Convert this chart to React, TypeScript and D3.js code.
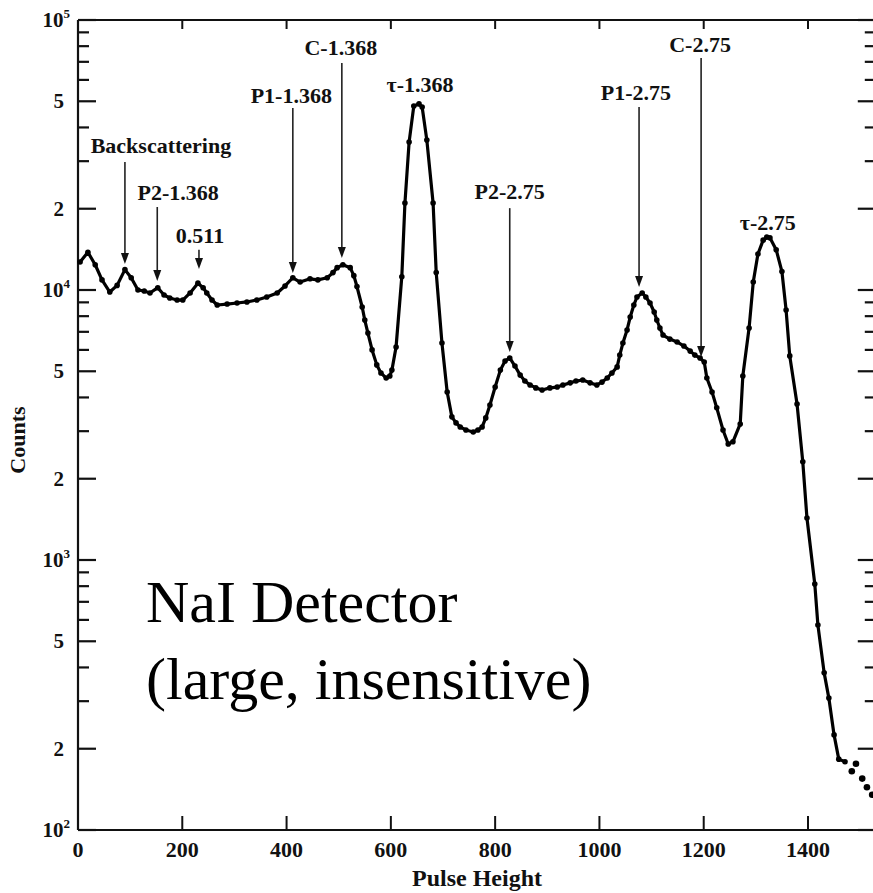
import React from "react";
import * as d3 from "d3";

const pulse = [4,19,33,46,61,75,90,102,115,127,138,153,165,176,190,201,215,230,240,247,257,267,286,305,324,343,362,382,397,412,426,445,460,478,489,497,508,522,529,535,545,550,556,564,573,581,591,598,602,610,621,627,635,644,654,660,669,681,687,698,708,717,725,733,744,758,767,775,782,790,800,810,819,828,838,848,857,867,878,890,905,919,930,944,955,968,982,995,1005,1015,1024,1034,1039,1045,1053,1059,1066,1072,1082,1089,1097,1105,1110,1116,1122,1135,1149,1162,1174,1183,1193,1201,1206,1216,1225,1237,1247,1256,1270,1275,1287,1295,1304,1314,1321,1327,1339,1350,1358,1365,1379,1390,1398,1413,1419,1431,1440,1450,1459,1471];
const counts = [12700,13800,12400,10900,9830,10400,11900,11100,10000,9915,9750,10200,9580,9340,9180,9180,9750,10600,10200,9750,9180,8800,8870,8950,9030,9180,9420,9750,10350,11100,10700,11000,10900,11100,11600,12100,12400,12100,11300,10300,8650,7740,6930,6000,5280,4930,4720,4800,5050,6150,11200,21000,35300,48000,48900,47600,35900,21000,11600,6360,4190,3390,3220,3110,3030,2980,3030,3110,3360,3750,4370,5050,5460,5600,5230,4840,4600,4450,4340,4260,4340,4370,4450,4530,4600,4640,4530,4450,4560,4720,4930,5190,5740,6360,7110,7940,8800,9420,9750,9420,8950,8290,7740,7230,6810,6580,6420,6200,5940,5740,5600,5410,4720,4190,3660,3030,2690,2740,3190,4800,7230,10700,13600,15300,15700,15600,14100,11700,8430,5700,3780,2310,1430,815,574,382,308,225,183,179];

const tailPulse = [1484,1492,1504,1513,1523];
const tailCounts = [165,176,155,144,135];

const xTicks = [0,200,400,600,800,1000,1200,1400];
const yMajorLabels: [number, string, string][] = [
  [100000,"10","5"],[50000,"5",""],[20000,"2",""],
  [10000,"10","4"],[5000,"5",""],[2000,"2",""],
  [1000,"10","3"],[500,"5",""],[200,"2",""],[100,"10","2"],
];

// annotations: label, arrow x, label x, label baseline (counts), arrow top (counts), arrow tip (counts)
const annLabels = ["Backscattering","P2-1.368","0.511","P1-1.368","C-1.368","τ-1.368","P2-2.75","P1-2.75","C-2.75","τ-2.75"];
const annArrowX = [90,152,232,412,506,null,828,1076,1195,null];
const annLabelX = [159,192,234,409,504,656,828,1070,1193,1323];
const annLabelY = [32100,21500,14900,49300,74200,54100,21700,50500,76100,16700];
const annTop = [29800,20300,14100,47200,69300,null,20100,47600,72300,null];
const annTip = [12480,10800,11960,11560,13140,null,5890,10260,5650,null];

const W = 873, H = 893;
const x = d3.scaleLinear().domain([0, 1400]).range([78, 808]);
const y = d3.scaleLog().domain([100, 100000]).range([830, 20]);
const xRight = x(1530);
const FONT = "'Liberation Serif', 'Times New Roman', serif";

export default function App() {
  const line = d3.line<number>().x((_, i) => x(pulse[i])).y((d) => y(d));
  const path = line(counts) || "";
  const allTicks: number[] = [];
  for (let e = 2; e < 5; e++) for (let m = 1; m < 10; m++) allTicks.push(m * Math.pow(10, e));
  allTicks.push(100000);
  const isMajor = (v: number) => {
    const m = v / Math.pow(10, Math.floor(Math.log10(v) + 1e-9));
    return Math.abs(m - 1) < 1e-6 || Math.abs(m - 2) < 1e-6 || Math.abs(m - 5) < 1e-6;
  };
  return (
    <svg width={W} height={H} style={{ position: "absolute", left: 0, top: 0, background: "#fff" }} fontFamily={FONT}>
      <rect x={0} y={0} width={W} height={H} fill="#fff" />
      {/* frame */}
      <line x1={78} x2={78} y1={y(100000)} y2={y(100)} stroke="#111" strokeWidth={2.2} />
      <line x1={78} x2={xRight} y1={y(100)} y2={y(100)} stroke="#111" strokeWidth={2.2} />
      <line x1={78} x2={xRight} y1={y(100000)} y2={y(100000)} stroke="#111" strokeWidth={2.2} />
      <line x1={xRight} x2={xRight} y1={y(100000)} y2={y(100)} stroke="#111" strokeWidth={2} />
      {/* y ticks */}
      {allTicks.map((v) => {
        const len = isMajor(v) ? 18 : 11;
        return (
          <g key={"yt" + v}>
            <line x1={78} x2={78 + len} y1={y(v)} y2={y(v)} stroke="#111" strokeWidth={2.2} />
            <line x1={xRight - len} x2={xRight} y1={y(v)} y2={y(v)} stroke="#111" strokeWidth={2.2} />
          </g>
        );
      })}
      {yMajorLabels.map(([v, base, sup]) => (
        <text key={"yl" + v} x={sup ? 70 : 64} y={y(v) + 7} textAnchor="end" fontSize={21} fontWeight="bold" fill="#111">
          {base}
          {sup ? <tspan fontSize={13} dy={-9}>{sup}</tspan> : null}
        </text>
      ))}
      {/* x ticks */}
      {xTicks.map((v) => (
        <g key={"xt" + v}>
          <line x1={x(v)} x2={x(v)} y1={y(100)} y2={y(100) - 14} stroke="#111" strokeWidth={2} />
          <line x1={x(v)} x2={x(v)} y1={y(100000)} y2={y(100000) + 9} stroke="#111" strokeWidth={2} />
          <text x={x(v)} y={857} textAnchor="middle" fontSize={22} fontWeight="bold" fill="#111">{v}</text>
        </g>
      ))}
      <text x={477} y={886} textAnchor="middle" fontSize={24} fontWeight="bold" fill="#111">Pulse Height</text>
      <text transform={`translate(25,440) rotate(-90)`} textAnchor="middle" fontSize={22} fontWeight="bold" fill="#111">Counts</text>
      {/* data */}
      <path d={path} fill="none" stroke="#000" strokeWidth={3.2} strokeLinejoin="round" />
      {counts.map((c, i) => (
        <circle key={"p" + i} cx={x(pulse[i])} cy={y(c)} r={2.8} fill="#000" />
      ))}
      {tailCounts.map((c, i) => (
        <circle key={"tp" + i} cx={x(tailPulse[i])} cy={y(c)} r={3.3} fill="#000" />
      ))}
      {/* annotations */}
      {annLabels.map((lab, i) => {
        const ax = annArrowX[i];
        const top = annTop[i];
        const tip = annTip[i];
        return (
          <g key={"a" + i}>
            <text x={x(annLabelX[i])} y={y(annLabelY[i])} textAnchor="middle" fontSize={22} fontWeight="bold" fill="#111">{lab}</text>
            {ax !== null && top !== null && tip !== null ? (
              <g>
                <line x1={x(ax)} x2={x(ax)} y1={y(top)} y2={y(tip) - 8} stroke="#222" strokeWidth={1.6} />
                <path d={`M${x(ax) - 4},${y(tip) - 11} L${x(ax) + 4},${y(tip) - 11} L${x(ax)},${y(tip)} Z`} fill="#111" />
              </g>
            ) : null}
          </g>
        );
      })}
      <text x={146} y={622} fontSize={60} fill="#000">NaI Detector</text>
      <text x={146} y={699} fontSize={60} fill="#000">(large, insensitive)</text>
    </svg>
  );
}
